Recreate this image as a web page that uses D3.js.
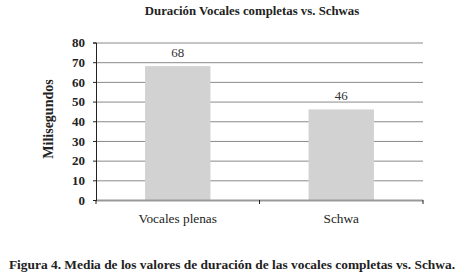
<!DOCTYPE html>
<html><head><meta charset="utf-8">
<script src="https://cdn.jsdelivr.net/npm/d3@7"></script>
<style>body{margin:0;background:#fff}svg{display:block}</style>
</head><body>
<script>
const categories = ["Vocales plenas", "Schwa"];
const values = [68, 46];
const yTicks = [0, 10, 20, 30, 40, 50, 60, 70, 80];
const title = "Duración Vocales completas vs. Schwas";
const yLabel = "Milisegundos";
const caption = "Figura 4. Media de los valores de duración de las vocales completas vs. Schwa.";

const W = 470, H = 276;
const m = {left: 96, right: 47, top: 42.5, bottom: 76};
const svg = d3.select("body").append("svg").attr("width", W).attr("height", H);
const font = "'Liberation Serif', 'Times New Roman', serif";
const x = d3.scaleBand().domain(categories).range([m.left, W - m.right]).paddingInner(0.6).paddingOuter(0.3);
const y = d3.scaleLinear().domain([0, 80]).range([H - m.bottom, m.top]);

// gridlines
svg.append("g").selectAll("line").data(yTicks.filter(d => d > 0)).join("line")
  .attr("x1", m.left).attr("x2", W - m.right)
  .attr("y1", d => y(d) + 0.5).attr("y2", d => y(d) + 0.5)
  .attr("stroke", "#8a8a8a").attr("stroke-width", 1);

// bars
svg.append("g").selectAll("rect").data(values).join("rect")
  .attr("x", (d, i) => x(categories[i])).attr("width", x.bandwidth())
  .attr("y", d => y(d)).attr("height", d => y(0) - y(d))
  .attr("fill", "#d2d2d2");

// x axis
const xEdge = d3.scaleLinear().domain([0, 2]).range([m.left, W - m.right]);
const xa = svg.append("g").attr("transform", `translate(0,${y(0)})`);
xa.append("line").attr("x1", m.left).attr("x2", W - m.right).attr("y1", 0.5).attr("y2", 0.5)
  .attr("stroke", "#999").attr("stroke-width", 2);
xa.selectAll("line.t").data([0, 1, 2]).join("line").attr("class", "t")
  .attr("x1", d => xEdge(d)).attr("x2", d => xEdge(d)).attr("y1", 0).attr("y2", 4)
  .attr("stroke", "#222");
xa.selectAll("text").data(categories).join("text")
  .attr("x", d => x(d) + x.bandwidth() / 2).attr("y", 23)
  .attr("text-anchor", "middle").attr("font-family", font).attr("font-size", 13.3)
  .attr("fill", "#222").text(d => d);

// y axis
const ya = svg.append("g").attr("transform", `translate(${m.left},0)`)
  .call(d3.axisLeft(y).tickValues(yTicks).tickSize(3).tickPadding(8));
ya.select(".domain").attr("stroke", "#222");
ya.selectAll(".tick line").attr("stroke", "#222");
ya.selectAll("text").attr("font-family", font).attr("font-size", 13).attr("font-weight", "bold").attr("fill", "#222");

// value labels
svg.append("g").selectAll("text").data(values).join("text")
  .attr("x", (d, i) => x(categories[i]) + x.bandwidth() / 2).attr("y", d => y(d) - 9)
  .attr("text-anchor", "middle").attr("font-family", font).attr("font-size", 13)
  .attr("fill", "#333").text(d => d);

// title
svg.append("text").attr("x", 252).attr("y", 15).attr("text-anchor", "middle")
  .attr("font-family", font).attr("font-size", 12.8).attr("font-weight", "bold").attr("fill", "#222").text(title);

// y label
svg.append("text").attr("transform", `translate(53,119) rotate(-90)`)
  .attr("text-anchor", "middle").attr("font-family", font).attr("font-size", 14)
  .attr("font-weight", "bold").attr("fill", "#222").text(yLabel);

// caption
svg.append("text").attr("x", 232).attr("y", 269).attr("text-anchor", "middle")
  .attr("font-family", font).attr("font-size", 13.4).attr("font-weight", "bold").attr("fill", "#222").text(caption);
</script>
</body></html>
